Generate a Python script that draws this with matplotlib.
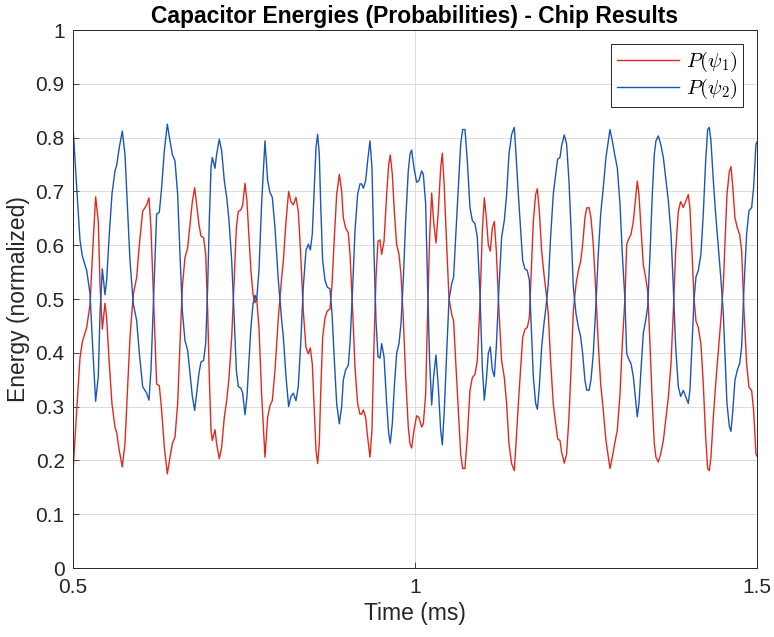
import matplotlib
matplotlib.use("Agg")
import matplotlib.pyplot as plt

# time axis (ms)
time_ms = [
    0.5000, 0.5054, 0.5102, 0.5136, 0.5200, 0.5249, 0.5288, 0.5331, 0.5370, 0.5395,
    0.5429, 0.5468, 0.5492, 0.5531, 0.5570, 0.5614, 0.5638, 0.5677, 0.5721, 0.5760,
    0.5794, 0.5833, 0.5882, 0.5931, 0.5970, 0.6019, 0.6077, 0.6111, 0.6140, 0.6184,
    0.6223, 0.6262, 0.6296, 0.6335,
    0.6379, 0.6418, 0.6452, 0.6491, 0.6530, 0.6564, 0.6598, 0.6637, 0.6676, 0.6711,
    0.6745, 0.6779, 0.6808, 0.6842, 0.6871, 0.6910, 0.6940, 0.6969, 0.6993, 0.7018,
    0.7037, 0.7076, 0.7100, 0.7139, 0.7174, 0.7212, 0.7247, 0.7281, 0.7320, 0.7354,
    0.7388, 0.7417, 0.7456, 0.7481, 0.7515, 0.7544, 0.7573, 0.7602, 0.7632, 0.7661,
    0.7685, 0.7719, 0.7758, 0.7807, 0.7846, 0.7880, 0.7914, 0.7953, 0.8002, 0.8051,
    0.8075, 0.8114, 0.8153, 0.8187, 0.8221, 0.8260, 0.8294, 0.8329, 0.8367, 0.8406,
    0.8441, 0.8470, 0.8499, 0.8528, 0.8553, 0.8577, 0.8601, 0.8621, 0.8650, 0.8684,
    0.8718, 0.8757, 0.8787, 0.8821, 0.8855, 0.8894, 0.8928, 0.8952, 0.8986, 0.9025,
    0.9050, 0.9089, 0.9123, 0.9162, 0.9196, 0.9220, 0.9245, 0.9279, 0.9308, 0.9342,
    0.9371, 0.9401, 0.9430, 0.9459, 0.9488, 0.9513, 0.9547, 0.9586, 0.9615, 0.9639,
    0.9669, 0.9698,
    0.9732, 0.9766, 0.9795, 0.9829, 0.9864, 0.9902, 0.9927, 0.9951, 0.9985, 1.0024,
    1.0058, 1.0097, 1.0122, 1.0156, 1.0185, 1.0214, 1.0244, 1.0273, 1.0307, 1.0341,
    1.0375, 1.0400, 1.0429, 1.0463, 1.0497, 1.0536, 1.0565, 1.0595, 1.0634, 1.0668,
    1.0697, 1.0731, 1.0765, 1.0804, 1.0838, 1.0877, 1.0911, 1.0950, 1.0984, 1.1014,
    1.1043, 1.1072, 1.1101, 1.1131, 1.1160, 1.1189, 1.1228, 1.1267, 1.1306, 1.1340,
    1.1374, 1.1413, 1.1452,
    1.1477, 1.1511, 1.1545, 1.1574, 1.1608, 1.1642, 1.1672, 1.1696, 1.1730, 1.1764,
    1.1789, 1.1818, 1.1852, 1.1886, 1.1915, 1.1949, 1.1983, 1.2022, 1.2057, 1.2086,
    1.2120, 1.2144, 1.2183, 1.2217, 1.2251, 1.2281, 1.2315, 1.2354, 1.2388, 1.2422,
    1.2451, 1.2485, 1.2510, 1.2544, 1.2573, 1.2607, 1.2646, 1.2680, 1.2715, 1.2753,
    1.2792, 1.2827, 1.2851, 1.2885, 1.2919, 1.2958, 1.2997, 1.3031, 1.3070,
    1.3095, 1.3119, 1.3158, 1.3192, 1.3226, 1.3250, 1.3275, 1.3304, 1.3338, 1.3372,
    1.3402, 1.3436, 1.3470, 1.3499, 1.3523, 1.3558, 1.3592, 1.3631, 1.3665, 1.3704,
    1.3743, 1.3777, 1.3811, 1.3850, 1.3884, 1.3923, 1.3957, 1.3996, 1.4020, 1.4045,
    1.4079, 1.4108, 1.4142, 1.4181, 1.4215, 1.4250, 1.4279, 1.4303, 1.4327, 1.4362,
    1.4396, 1.4435, 1.4474, 1.4508, 1.4532, 1.4561, 1.4596, 1.4620, 1.4644, 1.4678,
    1.4713, 1.4747, 1.4776, 1.4810, 1.4849, 1.4883, 1.4922, 1.4951, 1.4985, 1.5000,
]

# P(psi_1), red trace
p_psi1 = [
    0.178, 0.293, 0.390, 0.420, 0.447, 0.490, 0.590, 0.690, 0.644, 0.527,
    0.444, 0.492, 0.465, 0.379, 0.305, 0.262, 0.252, 0.218, 0.188, 0.231,
    0.323, 0.428, 0.509, 0.540, 0.601, 0.663, 0.675, 0.688, 0.632, 0.478,
    0.342, 0.339, 0.293, 0.225,
    0.175, 0.206, 0.231, 0.243, 0.305, 0.416, 0.521, 0.577, 0.595, 0.638,
    0.681, 0.707, 0.675, 0.638, 0.617, 0.614, 0.583, 0.478, 0.354, 0.256,
    0.237, 0.257, 0.231, 0.203, 0.225, 0.280, 0.311, 0.354, 0.428, 0.527,
    0.632, 0.663, 0.666, 0.675, 0.715, 0.681, 0.614, 0.552, 0.509, 0.493,
    0.502, 0.447, 0.323, 0.206, 0.280, 0.302, 0.311, 0.367, 0.465, 0.540,
    0.570, 0.644, 0.700, 0.681, 0.675, 0.689, 0.663, 0.583, 0.478, 0.410,
    0.398, 0.409, 0.379, 0.293, 0.218, 0.194, 0.231, 0.323, 0.428, 0.465,
    0.478, 0.481, 0.527, 0.614, 0.694, 0.732, 0.700, 0.651, 0.632, 0.623,
    0.583, 0.478, 0.373, 0.305, 0.286, 0.286, 0.294, 0.280, 0.243, 0.206,
    0.256, 0.416, 0.540, 0.607, 0.610, 0.583, 0.607, 0.694, 0.749, 0.768,
    0.731, 0.663,
    0.601, 0.583, 0.546, 0.465, 0.354, 0.262, 0.231, 0.223, 0.256, 0.283,
    0.280, 0.262, 0.268, 0.323, 0.478, 0.614, 0.697, 0.644, 0.604, 0.663,
    0.743, 0.771, 0.706, 0.601, 0.502, 0.472, 0.459, 0.385, 0.293, 0.212,
    0.185, 0.185, 0.243, 0.330, 0.354, 0.360, 0.385, 0.490, 0.626, 0.688,
    0.651, 0.601, 0.589, 0.632, 0.644, 0.589, 0.478, 0.385, 0.354, 0.305,
    0.231, 0.194, 0.181,
    0.231, 0.305, 0.373, 0.428, 0.444, 0.447, 0.465, 0.540, 0.644, 0.694,
    0.705, 0.663, 0.589, 0.546, 0.515, 0.472, 0.385, 0.305, 0.268, 0.240,
    0.237, 0.215, 0.195, 0.212, 0.280, 0.367, 0.478, 0.527, 0.552, 0.570,
    0.601, 0.651, 0.669, 0.670, 0.651, 0.601, 0.509, 0.416, 0.342, 0.293,
    0.237, 0.206, 0.185, 0.206, 0.231, 0.256, 0.323, 0.416, 0.502,
    0.601, 0.610, 0.620, 0.644, 0.688, 0.719, 0.694, 0.632, 0.564, 0.540,
    0.515, 0.416, 0.305, 0.231, 0.206, 0.197, 0.212, 0.237, 0.274, 0.317,
    0.379, 0.478, 0.589, 0.663, 0.681, 0.670, 0.681, 0.694, 0.669, 0.601,
    0.502, 0.459, 0.447, 0.416, 0.342, 0.243, 0.185, 0.181, 0.206, 0.280,
    0.342, 0.404, 0.465, 0.527, 0.601, 0.694, 0.737, 0.746, 0.712, 0.651,
    0.632, 0.620, 0.589, 0.478, 0.379, 0.336, 0.330, 0.293, 0.212, 0.208,
]

# P(psi_2), blue trace
p_psi2 = [
    0.822, 0.707, 0.610, 0.580, 0.553, 0.510, 0.410, 0.310, 0.356, 0.473,
    0.556, 0.508, 0.535, 0.621, 0.695, 0.738, 0.748, 0.782, 0.812, 0.769,
    0.677, 0.572, 0.491, 0.460, 0.399, 0.337, 0.325, 0.312, 0.368, 0.522,
    0.658, 0.661, 0.707, 0.775,
    0.825, 0.794, 0.769, 0.757, 0.695, 0.584, 0.479, 0.423, 0.405, 0.362,
    0.319, 0.293, 0.325, 0.362, 0.383, 0.386, 0.417, 0.522, 0.646, 0.744,
    0.763, 0.743, 0.769, 0.797, 0.775, 0.720, 0.689, 0.646, 0.572, 0.473,
    0.368, 0.337, 0.334, 0.325, 0.285, 0.319, 0.386, 0.448, 0.491, 0.507,
    0.498, 0.553, 0.677, 0.794, 0.720, 0.698, 0.689, 0.633, 0.535, 0.460,
    0.430, 0.356, 0.300, 0.319, 0.325, 0.311, 0.337, 0.417, 0.522, 0.590,
    0.602, 0.591, 0.621, 0.707, 0.782, 0.806, 0.769, 0.677, 0.572, 0.535,
    0.522, 0.519, 0.473, 0.386, 0.306, 0.268, 0.300, 0.349, 0.368, 0.377,
    0.417, 0.522, 0.627, 0.695, 0.714, 0.714, 0.706, 0.720, 0.757, 0.794,
    0.744, 0.584, 0.460, 0.393, 0.390, 0.417, 0.393, 0.306, 0.251, 0.232,
    0.269, 0.337,
    0.399, 0.417, 0.454, 0.535, 0.646, 0.738, 0.769, 0.777, 0.744, 0.717,
    0.720, 0.738, 0.732, 0.677, 0.522, 0.386, 0.303, 0.356, 0.396, 0.337,
    0.257, 0.229, 0.294, 0.399, 0.498, 0.528, 0.541, 0.615, 0.707, 0.788,
    0.815, 0.815, 0.757, 0.670, 0.646, 0.640, 0.615, 0.510, 0.374, 0.312,
    0.349, 0.399, 0.411, 0.368, 0.356, 0.411, 0.522, 0.615, 0.646, 0.695,
    0.769, 0.806, 0.819,
    0.769, 0.695, 0.627, 0.572, 0.556, 0.553, 0.535, 0.460, 0.356, 0.306,
    0.295, 0.337, 0.411, 0.454, 0.485, 0.528, 0.615, 0.695, 0.732, 0.760,
    0.763, 0.785, 0.805, 0.788, 0.720, 0.633, 0.522, 0.473, 0.448, 0.430,
    0.399, 0.349, 0.331, 0.330, 0.349, 0.399, 0.491, 0.584, 0.658, 0.707,
    0.763, 0.794, 0.815, 0.794, 0.769, 0.744, 0.677, 0.584, 0.498,
    0.399, 0.390, 0.380, 0.356, 0.312, 0.281, 0.306, 0.368, 0.436, 0.460,
    0.485, 0.584, 0.695, 0.769, 0.794, 0.803, 0.788, 0.763, 0.726, 0.683,
    0.621, 0.522, 0.411, 0.337, 0.319, 0.330, 0.319, 0.306, 0.331, 0.399,
    0.498, 0.541, 0.553, 0.584, 0.658, 0.757, 0.815, 0.819, 0.794, 0.720,
    0.658, 0.596, 0.535, 0.473, 0.399, 0.306, 0.263, 0.254, 0.288, 0.349,
    0.368, 0.380, 0.411, 0.522, 0.621, 0.664, 0.670, 0.707, 0.788, 0.792,
]

plt.rcParams['font.family'] = ['Liberation Sans', 'DejaVu Sans']
plt.rcParams['mathtext.fontset'] = 'cm'

fig = plt.figure(figsize=(7.74, 6.37), dpi=100)
ax = fig.add_axes([0.0943, 0.1083, 0.8837, 0.8446])

ax.plot(time_ms, p_psi1, color='#e3291f', linewidth=1.0, label=r'$P(\psi_1)$')
ax.plot(time_ms, p_psi2, color='#1a56b8', linewidth=1.0, label=r'$P(\psi_2)$')

ax.set_xlim(0.5, 1.5)
ax.set_ylim(0, 1)
ax.set_xticks([0.5, 1, 1.5])
ax.set_xticklabels(['0.5', '1', '1.5'])
ax.set_yticks([i / 10 for i in range(11)])
ax.set_yticklabels(['0', '0.1', '0.2', '0.3', '0.4', '0.5', '0.6', '0.7', '0.8', '0.9', '1'])
ax.tick_params(direction='in', length=4, labelsize=15, colors='#262626', width=0.6)
ax.tick_params(axis='x', pad=7)
ax.tick_params(axis='y', pad=6)
ax.grid(True, color='#dcdcdc', linewidth=0.7)
ax.set_axisbelow(True)
for s in ax.spines.values():
    s.set_color('#262626')
    s.set_linewidth(0.7)

ax.set_title('Capacitor Energies (Probabilities) - Chip Results', fontsize=16.5,
             fontweight='bold', pad=5)
ax.set_xlabel('Time (ms)', fontsize=16.5, color='#262626', labelpad=4)
ax.set_ylabel('Energy (normalized)', fontsize=16.5, color='#262626', labelpad=4)

leg = ax.legend(loc='upper right', fontsize=15, fancybox=False, framealpha=1,
                edgecolor='#262626', handlelength=3.0, handletextpad=0.3,
                borderaxespad=0.65, borderpad=0.3, labelspacing=0.15)
leg.get_frame().set_linewidth(0.7)

plt.savefig('out.png', dpi=100)
